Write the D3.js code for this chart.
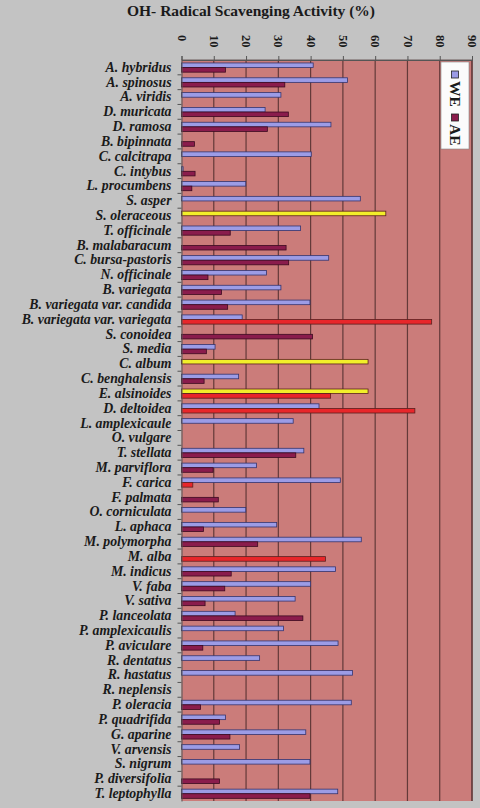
<!DOCTYPE html>
<html>
<head>
<meta charset="utf-8">
<script src="https://cdn.jsdelivr.net/npm/d3@7"></script>
<style>
  body { margin: 0; background: #c3c3c3; }
  svg text { font-family: "Liberation Serif", "DejaVu Serif", serif; font-weight: bold; fill: #1a1a1a; }
</style>
</head>
<body>
<svg id="chart"></svg>
<script>
const width = 480, height = 808;

// plant species, top to bottom
const species = [
  "A. hybridus", "A. spinosus", "A. viridis", "D. muricata", "D. ramosa",
  "B. bipinnata", "C. calcitrapa", "C. intybus", "L. procumbens", "S. asper",
  "S. oleraceous", "T. officinale", "B. malabaracum", "C. bursa-pastoris", "N. officinale",
  "B. variegata", "B. variegata var. candida", "B. variegata var. variegata", "S. conoidea", "S. media",
  "C. album", "C. benghalensis", "E. alsinoides", "D. deltoidea", "L. amplexicaule",
  "O. vulgare", "T. stellata", "M. parviflora", "F. carica", "F. palmata",
  "O. corniculata", "L. aphaca", "M. polymorpha", "M. alba", "M. indicus",
  "V. faba", "V. sativa", "P. lanceolata", "P. amplexicaulis", "P. aviculare",
  "R. dentatus", "R. hastatus", "R. neplensis", "P. oleracia", "P. quadrifida",
  "G. aparine", "V. arvensis", "S. nigrum", "P. diversifolia", "T. leptophylla"
];

// water extract
const weValues = [
  40.8, 51.4, 30.8, 25.9, 46.3,
  0, 40.2, 0.5, 19.9, 55.4,
  63.3, 36.9, 0, 45.6, 26.3,
  30.8, 39.8, 18.8, 0, 10.4,
  57.8, 17.7, 57.8, 42.6, 34.6,
  0, 37.9, 23.2, 49.2, 0,
  19.9, 29.5, 55.7, 0, 47.7,
  40.0, 35.2, 16.6, 31.6, 48.5,
  24.2, 53.0, 0, 52.6, 13.6,
  38.5, 18.0, 39.8, 0, 48.4
];

// alcoholic extract
const aeValues = [
  13.6, 32.0, 0, 33.1, 26.6,
  4.0, 0, 4.2, 3.2, 0,
  0, 15.1, 32.4, 33.2, 8.2,
  12.4, 14.3, 77.5, 40.6, 7.7,
  0, 7.0, 46.2, 72.3, 0,
  0, 35.4, 9.8, 3.5, 11.4,
  0, 6.8, 23.6, 44.6, 15.4,
  13.4, 7.3, 37.6, 0, 6.6,
  0, 0, 0, 5.9, 11.8,
  15.0, 0, 0, 11.8, 39.8
];

const seriesNames = ["WE", "AE"];
const xTicks = [0, 10, 20, 30, 40, 50, 60, 70, 80, 90];

// bars that are drawn highlighted in the original
const yellowBars = ["S. oleraceous|WE", "C. album|WE", "E. alsinoides|WE"];
const redBars = ["B. variegata var. variegata|AE", "E. alsinoides|AE", "D. deltoidea|AE", "F. carica|AE", "M. alba|AE"];

const margin = {top: 60, right: 8, bottom: 7, left: 181.5};

const svg = d3.select("#chart")
    .attr("width", width)
    .attr("height", height);

const x = d3.scaleLinear().domain([0, 90]).range([margin.left, width - margin.right]);
const y = d3.scaleBand().domain(species).range([margin.top, height - margin.bottom]);
const ySub = d3.scaleBand().domain(seriesNames)
    .range([y.bandwidth() * 0.2, y.bandwidth() * 0.82]);

const rows = species.map((s, i) => ({name: s, WE: weValues[i], AE: aeValues[i]}));

// plot background
svg.append("rect")
    .attr("x", x(0)).attr("y", margin.top)
    .attr("width", x(90) - x(0)).attr("height", y.range()[1] - margin.top)
    .attr("fill", "#cb7c7a");

// gridlines
svg.append("g")
  .selectAll("line")
  .data(xTicks.slice(1))
  .join("line")
    .attr("x1", d => x(d)).attr("x2", d => x(d))
    .attr("y1", margin.top).attr("y2", y.range()[1])
    .attr("stroke", "#633a39")
    .attr("stroke-width", 1.2);

// BARS
const fills = {WE: "#9c9ce6", AE: "#8a1c4c"};
const strokes = {WE: "#34346e", AE: "#3c0a20"};
function barFill(d) {
  const k = d.name + "|" + d.key;
  if (yellowBars.includes(k)) return "#f2ef2a";
  if (redBars.includes(k)) return "#e8262a";
  return fills[d.key];
}

svg.append("g")
  .selectAll("g")
  .data(rows)
  .join("g")
    .attr("transform", d => `translate(0,${y(d.name)})`)
  .selectAll("rect")
  .data(d => seriesNames.map(k => ({name: d.name, key: k, value: d[k]})).filter(e => e.value > 0))
  .join("rect")
    .attr("x", x(0))
    .attr("y", d => ySub(d.key))
    .attr("width", d => x(d.value) - x(0))
    .attr("height", ySub.bandwidth())
    .attr("fill", d => barFill(d))
    .attr("stroke", d => barFill(d) == fills[d.key] ? strokes[d.key] : "#5a2020")
    .attr("stroke-width", 0.8);

// frame
svg.append("line")
    .attr("x1", x(90)).attr("x2", x(90))
    .attr("y1", margin.top).attr("y2", y.range()[1])
    .attr("stroke", "#633a39").attr("stroke-width", 1.2);
svg.append("line")
    .attr("x1", x(0)).attr("x2", x(90))
    .attr("y1", margin.top).attr("y2", margin.top)
    .attr("stroke", "#6a5a5a").attr("stroke-width", 1);

// top axis
const xAxis = svg.append("g")
    .attr("transform", `translate(0,${margin.top})`)
    .call(d3.axisTop(x).tickValues(xTicks).tickSize(4).tickFormat(d3.format("d")));
xAxis.select(".domain").attr("stroke", "#555");
xAxis.selectAll(".tick line").attr("stroke", "#555");
xAxis.selectAll(".tick text")
    .attr("transform", "rotate(90)")
    .attr("x", -25).attr("y", 0)
    .attr("dy", "0.35em")
    .attr("text-anchor", "start")
    .style("font-size", "12.5px")
    .style("font-family", "Liberation Serif, serif")
    .style("font-weight", "bold");

// left axis
const yAxis = svg.append("g")
    .attr("transform", `translate(${margin.left},0)`)
    .call(d3.axisLeft(y).tickSize(0).tickPadding(10));
yAxis.select(".domain").attr("stroke", "#555");
yAxis.selectAll(".tick text")
    .style("font-size", "13.8px")
    .style("font-style", "italic")
    .style("font-family", "Liberation Serif, serif")
    .style("font-weight", "bold");

// small ticks at category boundaries
svg.append("g")
  .selectAll("line")
  .data(species.slice(1))
  .join("line")
    .attr("x1", margin.left - 4).attr("x2", margin.left)
    .attr("y1", d => y(d)).attr("y2", d => y(d))
    .attr("stroke", "#555");

// title
svg.append("text")
    .attr("x", 251).attr("y", 16)
    .attr("text-anchor", "middle")
    .style("font-size", "15.5px")
    .text("OH- Radical Scavenging Activity (%)");

// LEGEND (rotated like the axis labels)
const legend = svg.append("g").attr("transform", "translate(441,62)");
legend.append("rect")
    .attr("width", 28).attr("height", 87)
    .attr("fill", "#fbfbfb")
    .attr("stroke", "#888").attr("stroke-width", 0.6);
const legItems = legend.selectAll("g")
  .data(seriesNames)
  .join("g")
    .attr("transform", (d, i) => `translate(14,${12 + i * 43}) rotate(90)`);
legItems.append("rect")
    .attr("x", -3).attr("y", -3.5)
    .attr("width", 7).attr("height", 7)
    .attr("fill", d => fills[d])
    .attr("stroke", "#222").attr("stroke-width", 0.8);
legItems.append("text")
    .attr("x", 7).attr("dy", "0.35em")
    .style("font-size", "15.5px")
    .text(d => d);
</script>
</body>
</html>
